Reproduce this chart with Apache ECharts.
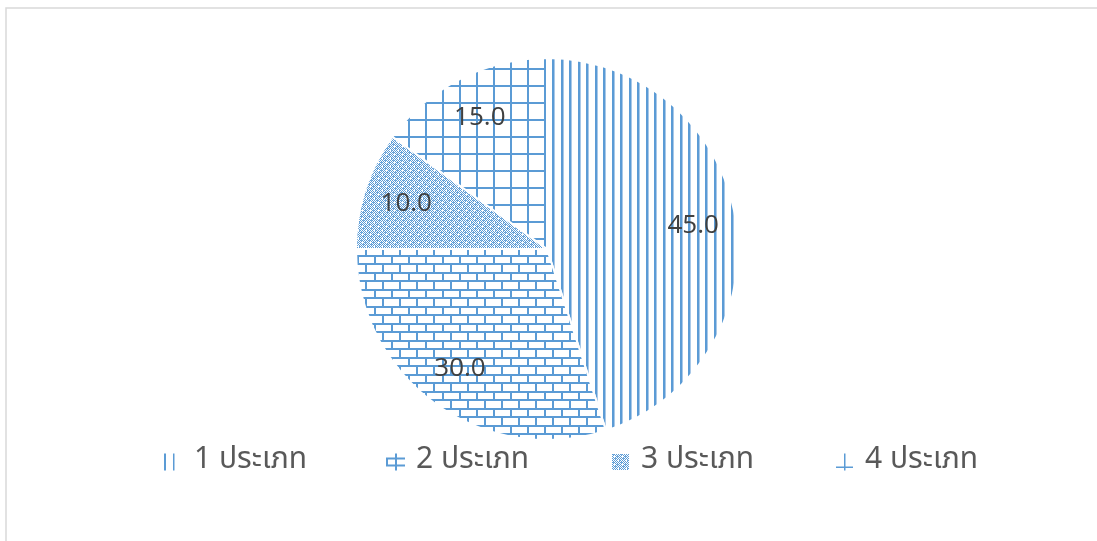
<!DOCTYPE html>
<html>
<head>
<meta charset="utf-8">
<script src="https://cdn.jsdelivr.net/npm/echarts@6/dist/echarts.min.js"></script>
<style>
  html, body { margin: 0; padding: 0; background: #fff; overflow: hidden; }
  #chart { width: 1097px; height: 541px; }
</style>
</head>
<body>
<div id="chart"></div>
<script>
var categories = ['1 ประเภท', '2 ประเภท', '3 ประเภท', '4 ประเภท'];
var values = [45.0, 30.0, 10.0, 15.0];

var blue = '#5b9bd5';
var lightBlue = '#a8c8e8';
var thaiFont = "'Noto Sans Thai', 'Noto Sans', sans-serif";

// small canvas tiles used as pattern fills (Excel style)
function tile(w, h, draw) {
  var c = document.createElement('canvas');
  c.width = w;
  c.height = h;
  var ctx = c.getContext('2d');
  draw(ctx);
  return { image: c, repeat: 'repeat' };
}
var patVert = tile(17, 17, function (ctx) {
  ctx.fillStyle = blue;
  ctx.fillRect(0, 0, 2, 17);
  ctx.fillRect(8, 0, 2, 17);
  ctx.fillStyle = lightBlue;
  ctx.fillRect(2, 0, 1, 17);
  ctx.fillRect(10, 0, 1, 17);
});
var patBrick = tile(17, 17, function (ctx) {
  ctx.fillStyle = blue;
  ctx.fillRect(0, 0, 17, 2);
  ctx.fillRect(0, 8, 17, 2);
  ctx.fillRect(0, 0, 2, 8);
  ctx.fillRect(8, 8, 2, 9);
});
var patDot = tile(8, 8, function (ctx) {
  ctx.fillStyle = blue;
  for (var y = 0; y < 8; y++) {
    for (var x = 0; x < 8; x++) {
      if ((x + y) % 2 === 0) ctx.fillRect(x, y, 1, 1);
    }
  }
  ctx.fillStyle = '#7fb0df';
  ctx.fillRect(1, 0, 1, 1);
  ctx.fillRect(3, 4, 1, 1);
  ctx.fillRect(5, 2, 1, 1);
  ctx.fillRect(7, 6, 1, 1);
  ctx.clearRect(2, 2, 1, 1);
  ctx.clearRect(6, 6, 1, 1);
});
var patGrid = tile(17, 17, function (ctx) {
  ctx.fillStyle = blue;
  ctx.fillRect(0, 0, 17, 2);
  ctx.fillRect(0, 0, 2, 17);
});
var patterns = [patVert, patBrick, patDot, patGrid];

var icons = [
  'path://M1,0h2v17h-2z M10,0h1.5v17h-1.5z M0,17h0.01v0.01h-0.01z M17,17h0.01v0.01h-0.01z',
  'path://M0,4h19v2h-19z M0,11h19v2h-19z M9,0h2v17h-2z M0,6h2v5h-2z',
  'rect',
  'path://M0,13h17v1.5h-17z M8,0h1.5v17h-1.5z'
];
var legendLeft = [163, 386, 612, 836];
var textPad = [9, 6, 7, 7];

var myChart = echarts.init(document.getElementById('chart'));
var option = {
  animation: false,
  backgroundColor: '#fff',
  graphic: [{
    type: 'rect',
    shape: { x: 6, y: 8, width: 1200, height: 700 },
    style: { fill: 'none', stroke: '#d9d9d9', lineWidth: 1.5 },
    silent: true
  }],
  legend: categories.map(function (name, i) {
    return {
      left: legendLeft[i],
      top: 447,
      padding: 0,
      itemWidth: i === 1 ? 19 : 17,
      itemHeight: i === 2 ? 16 : 17,
      symbolKeepAspect: false,
      itemStyle: { borderWidth: 0, borderColor: 'transparent' },
      data: [{
        name: name,
        icon: icons[i],
        itemStyle: { color: i === 2 ? patDot : blue, borderWidth: 0, borderColor: 'transparent' }
      }],
      textStyle: {
        fontFamily: thaiFont,
        fontSize: 30,
        color: '#595959',
        lineHeight: 30,
        padding: [0, 0, 0, textPad[i]]
      }
    };
  }),
  series: [{
    name: 'fill',
    type: 'pie',
    center: [547, 249],
    radius: 191,
    startAngle: 90,
    clockwise: true,
    silent: true,
    data: categories.map(function (name, i) {
      return { name: name, value: values[i], itemStyle: { color: patterns[i] } };
    }),
    itemStyle: { borderColor: '#fff', borderWidth: 2 },
    label: { show: false },
    labelLine: { show: false },
    emphasis: { disabled: true }
  }, {
    // transparent ring only used to place the value labels further out
    name: 'labels',
    type: 'pie',
    center: [547, 249],
    radius: 290,
    startAngle: 90,
    clockwise: true,
    silent: true,
    data: categories.map(function (name, i) {
      return { name: name, value: values[i], itemStyle: { color: 'rgba(0,0,0,0)' } };
    }),
    label: {
      show: true,
      position: 'inside',
      formatter: function (p) { return p.value.toFixed(1); },
      fontFamily: "'Open Sans', sans-serif",
      fontSize: 26,
      color: '#404040'
    },
    labelLine: { show: false },
    emphasis: { disabled: true }
  }]
};
myChart.setOption(option);
</script>
</body>
</html>
